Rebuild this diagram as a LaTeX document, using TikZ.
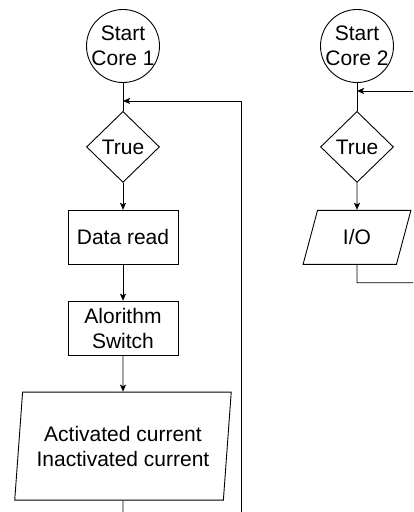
\documentclass[tikz,border=0pt]{standalone}
\usepackage{fontspec}
\setmainfont{Liberation Sans}
\usetikzlibrary{positioning,shapes.geometric,arrows.meta}

\begin{document}
\begin{tikzpicture}[
  x=1pt, y=-1pt,
  font=\fontsize{21}{25}\selectfont,
  line width=0.9pt,
  terminal/.style={draw, circle, align=center, minimum size=73pt, inner sep=-3pt},
  decision/.style={draw, diamond, minimum width=73pt, minimum height=71pt, inner sep=0pt},
  process/.style={draw, rectangle, align=center, minimum width=110pt, minimum height=54pt, inner sep=0pt},
  in-out/.style={draw, trapezium, align=center, trapezium stretches=true, inner sep=0pt},
  arrow/.style={-{Stealth[length=7pt,width=6pt,inset=1.5pt]}},
  ]
  \useasboundingbox (0,0) rectangle (413,512);

  % core 1
  \node [terminal] (start1) at (123,46) {Start\\Core 1};
  \node [decision, below=28pt of start1] (true1) {True};
  \node [process, below=27pt of true1] (read1) {Data read};
  \node [process, below=36pt of read1] (algo1) {Alorithm\\Switch};
  \node [in-out, below=36pt of algo1, trapezium left angle=80.5, trapezium right angle=99.5,
         minimum width=217pt, minimum height=108pt] (out1) {Activated current\\Inactivated current};

  \coordinate [below=18pt of start1] (join1);
  \coordinate [below=16pt of out1] (end1);
  \coordinate [right=118pt of end1] (back1);

  \draw (start1) -- (true1);
  \draw [arrow] (true1) -- (read1);
  \draw [arrow] (read1) -- (algo1);
  \draw [arrow] (algo1) -- (out1);
  \draw (out1) -- (end1);
  \draw [arrow] (back1) |- (join1);

  % core 2
  \node [terminal] (start2) at (357,46) {Start\\Core 2};
  \node [decision, below=28pt of start2] (true2) {True};
  \node [in-out, below=27pt of true2, trapezium left angle=71.6, trapezium right angle=108.4,
         minimum width=108pt, minimum height=54pt] (io2) {I/O};

  \coordinate [below=8pt of start2] (join2);
  \coordinate [right=56pt of join2] (back2);
  \coordinate [below=18pt of io2] (turn2);
  \coordinate [right=56pt of turn2] (exit2);

  \draw (start2) -- (true2);
  \draw [arrow] (back2) -- (join2);
  \draw [arrow] (true2) -- (io2);
  \draw (io2) -- (turn2) -- (exit2);
\end{tikzpicture}
\end{document}
